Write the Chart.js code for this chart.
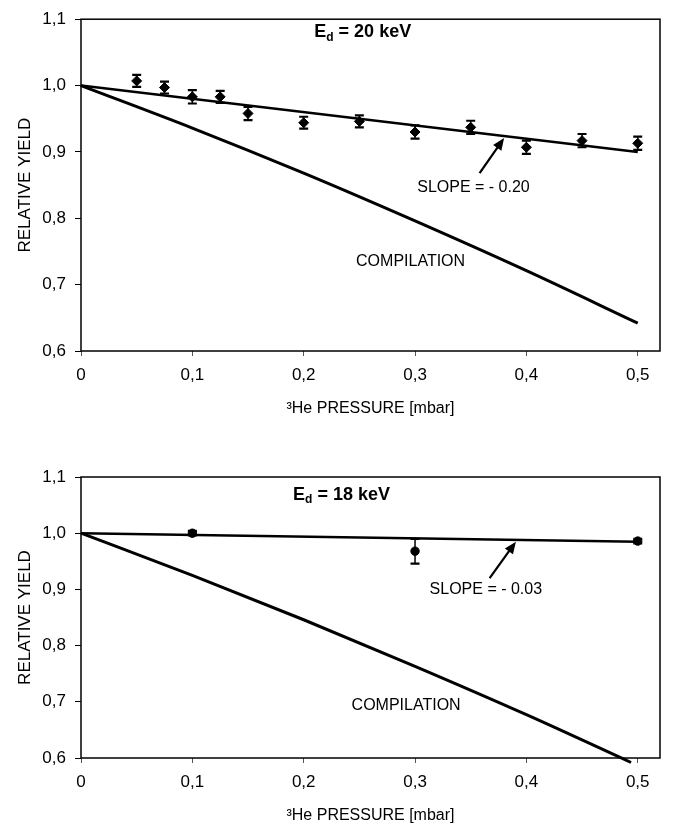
<!DOCTYPE html>
<html>
<head>
<meta charset="utf-8">
<script src="https://cdn.jsdelivr.net/npm/chart.js@4.4.0/dist/chart.umd.min.js"></script>
<style>
  html, body { margin: 0; padding: 0; background: #fff; }
  #wrap { position: relative; width: 675px; height: 831px; }
  canvas { position: absolute; left: 0; }
  #chart20 { top: 0; }
  #chart18 { top: 430px; }
</style>
</head>
<body>
<div id="wrap">
  <canvas id="chart20" width="675" height="430"></canvas>
  <canvas id="chart18" width="675" height="401"></canvas>
</div>
<script>
const xTickValues = [0, 0.1, 0.2, 0.3, 0.4, 0.5];
const xTickLabels = ['0', '0,1', '0,2', '0,3', '0,4', '0,5'];
const yTickValues = [0.6, 0.7, 0.8, 0.9, 1.0, 1.1];
const yTickLabels = ['0,6', '0,7', '0,8', '0,9', '1,0', '1,1'];

// E_d = 20 keV
const pressure20 = [0.05, 0.075, 0.1, 0.125, 0.15, 0.2, 0.25, 0.3, 0.35, 0.4, 0.45, 0.5];
const yield20 = [1.007, 0.997, 0.983, 0.983, 0.958, 0.944, 0.946, 0.930, 0.937, 0.907, 0.917, 0.913];
const error20 = [0.009, 0.009, 0.010, 0.009, 0.010, 0.009, 0.009, 0.010, 0.010, 0.010, 0.010, 0.010];
const fitX20 = [0, 0.5];
const fitY20 = [1.0, 0.9];
const compX20 = [0, 0.1, 0.2, 0.3, 0.4, 0.5];
const compY20 = [1.0, 0.936, 0.868, 0.796, 0.721, 0.642];

// E_d = 18 keV
const pressure18 = [0.1, 0.3, 0.5];
const yield18 = [1.0, 0.968, 0.986];
const error18 = [0.004, 0.022, 0.004];
const fitX18 = [0, 0.5];
const fitY18 = [1.0, 0.985];
const compX18 = [0, 0.1, 0.2, 0.3, 0.4, 0.494];
const compY18 = [1.0, 0.925, 0.846, 0.763, 0.677, 0.592];

const FONT = '"Liberation Sans", Arial, sans-serif';

const toPoints = (xs, ys) => xs.map((x, i) => ({ x: x, y: ys[i] }));

const drawArrow = (ctx, x1, y1, x2, y2) => {
	const ang = Math.atan2(y2 - y1, x2 - x1);
	const len = 12, half = 5;
	ctx.beginPath();
	ctx.moveTo(x1, y1);
	ctx.lineTo(x2 - Math.cos(ang) * len * 0.8, y2 - Math.sin(ang) * len * 0.8);
	ctx.lineWidth = 2.2;
	ctx.stroke();
	ctx.beginPath();
	ctx.moveTo(x2, y2);
	ctx.lineTo(x2 - Math.cos(ang) * len - Math.sin(ang) * half, y2 - Math.sin(ang) * len + Math.cos(ang) * half);
	ctx.lineTo(x2 - Math.cos(ang) * len + Math.sin(ang) * half, y2 - Math.sin(ang) * len - Math.cos(ang) * half);
	ctx.closePath();
	ctx.fill();
};

// frame, error bars, title and labels
const marksPlugin = (cfg) => ({
	id: 'marks',
	afterDatasetsDraw(chart) {
		const ctx = chart.ctx;
		const a = chart.chartArea;
		const xs = chart.scales.x;
		const ys = chart.scales.y;
		ctx.save();
		ctx.strokeStyle = '#000';
		ctx.fillStyle = '#000';

		ctx.lineWidth = 1.5;
		ctx.strokeRect(a.left, a.top, a.right - a.left, a.bottom - a.top);

		chart.data.datasets.forEach((ds, di) => {
			if (!ds.errors) return;
			chart.getDatasetMeta(di).data.forEach((pt, i) => {
				const v = ds.data[i].y;
				const top = ys.getPixelForValue(v + ds.errors[i]);
				const bot = ys.getPixelForValue(v - ds.errors[i]);
				ctx.lineWidth = 1.5;
				ctx.beginPath();
				ctx.moveTo(pt.x, top);
				ctx.lineTo(pt.x, bot);
				ctx.stroke();
				ctx.lineWidth = 2.2;
				ctx.beginPath();
				ctx.moveTo(pt.x - 4.5, top);
				ctx.lineTo(pt.x + 4.5, top);
				ctx.moveTo(pt.x - 4.5, bot);
				ctx.lineTo(pt.x + 4.5, bot);
				ctx.stroke();
			});
		});

		// title with subscript
		const t = cfg.title;
		const big = 'bold 18px ' + FONT;
		const small = 'bold 12px ' + FONT;
		ctx.font = big;
		const w1 = ctx.measureText(t.main).width;
		const w3 = ctx.measureText(t.rest).width;
		ctx.font = small;
		const w2 = ctx.measureText(t.sub).width;
		let tx = xs.getPixelForValue(t.x) - (w1 + w2 + w3) / 2;
		const ty = ys.getPixelForValue(t.y);
		ctx.textBaseline = 'middle';
		ctx.textAlign = 'left';
		ctx.font = big;
		ctx.fillText(t.main, tx, ty);
		tx += w1;
		ctx.font = small;
		ctx.fillText(t.sub, tx, ty + 5);
		tx += w2;
		ctx.font = big;
		ctx.fillText(t.rest, tx, ty);

		ctx.font = '16px ' + FONT;
		ctx.textAlign = 'center';
		cfg.labels.forEach((l) => {
			ctx.fillText(l.text, xs.getPixelForValue(l.x), ys.getPixelForValue(l.y));
		});

		const ar = cfg.arrow;
		drawArrow(ctx,
			xs.getPixelForValue(ar.from[0]), ys.getPixelForValue(ar.from[1]),
			xs.getPixelForValue(ar.to[0]), ys.getPixelForValue(ar.to[1]));
		ctx.restore();
	}
});

const makeChart = (id, data, cfg) => {
	const canvas = document.getElementById(id);
	return new Chart(canvas, {
		type: 'scatter',
		data: {
			datasets: [
				{
					data: toPoints(data.px, data.py),
					errors: data.err,
					pointStyle: data.marker,
					pointRadius: data.marker === 'rectRot' ? 5 : 4.2,
					pointBackgroundColor: '#000',
					pointBorderColor: '#000',
					pointBorderWidth: 1,
					showLine: false
				},
				{
					data: toPoints(data.fx, data.fy),
					showLine: true,
					pointRadius: 0,
					borderColor: '#000',
					borderWidth: 2.5
				},
				{
					data: toPoints(data.cx, data.cy),
					showLine: true,
					pointRadius: 0,
					borderColor: '#000',
					borderWidth: 3,
					cubicInterpolationMode: 'monotone',
					clip: 6
				}
			]
		},
		options: {
			responsive: false,
			animation: false,
			events: [],
			layout: { padding: { left: 0, right: 15, top: cfg.padTop, bottom: 0 } },
			plugins: { legend: { display: false }, tooltip: { enabled: false } },
			scales: {
				x: {
					type: 'linear',
					min: 0,
					max: 0.52,
					afterBuildTicks: (s) => { s.ticks = xTickValues.map((v) => ({ value: v })); },
					afterFit: (s) => { s.height = cfg.xHeight; },
					ticks: {
						callback: (v, i) => xTickLabels[i],
						font: { family: FONT, size: 17 },
						color: '#000',
						padding: 9,
						maxRotation: 0
					},
					grid: { display: true, drawOnChartArea: false, drawTicks: true, tickLength: 5, color: '#555', lineWidth: 1 },
					border: { display: false },
					title: {
						display: true,
						text: '\u00b3He PRESSURE [mbar]',
						font: { family: FONT, size: 16 },
						color: '#000',
						padding: { top: 0, bottom: cfg.titlePad }
					}
				},
				y: {
					type: 'linear',
					min: 0.6,
					max: 1.1,
					afterBuildTicks: (s) => { s.ticks = yTickValues.map((v) => ({ value: v })); },
					afterFit: (s) => { s.width = 81; },
					ticks: {
						callback: (v, i) => yTickLabels[i],
						font: { family: FONT, size: 17 },
						color: '#000',
						padding: 9
					},
					grid: { display: true, drawOnChartArea: false, drawTicks: true, tickLength: 6, color: '#000', lineWidth: 1 },
					border: { display: false },
					title: {
						display: true,
						text: 'RELATIVE YIELD',
						font: { family: FONT, size: 17 },
						color: '#000',
						padding: { top: 15, bottom: 0 }
					}
				}
			}
		},
		plugins: [marksPlugin(cfg)]
	});
};

makeChart('chart20', {
	px: pressure20, py: yield20, err: error20, marker: 'rectRot',
	fx: fitX20, fy: fitY20, cx: compX20, cy: compY20
}, {
	padTop: 11, xHeight: 79, titlePad: 12,
	title: { main: 'E', sub: 'd', rest: ' = 20 keV', x: 0.253, y: 1.080 },
	labels: [
		{ text: 'SLOPE = - 0.20', x: 0.3525, y: 0.846 },
		{ text: 'COMPILATION', x: 0.296, y: 0.735 }
	],
	arrow: { from: [0.358, 0.868], to: [0.380, 0.921] }
});

makeChart('chart18', {
	px: pressure18, py: yield18, err: error18, marker: 'circle',
	fx: fitX18, fy: fitY18, cx: compX18, cy: compY18
}, {
	padTop: 47, xHeight: 73, titlePad: 6,
	title: { main: 'E', sub: 'd', rest: ' = 18 keV', x: 0.234, y: 1.068 },
	labels: [
		{ text: 'SLOPE = - 0.03', x: 0.3636, y: 0.899 },
		{ text: 'COMPILATION', x: 0.292, y: 0.694 }
	],
	arrow: { from: [0.367, 0.920], to: [0.3906, 0.985] }
});
</script>
</body>
</html>
